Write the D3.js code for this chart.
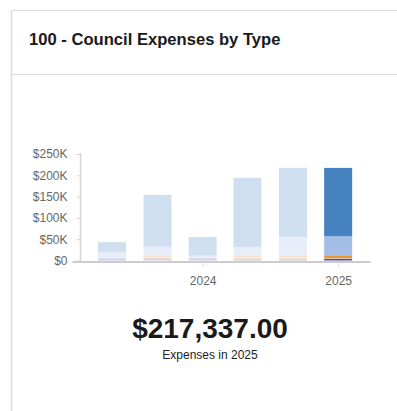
<!DOCTYPE html>
<html>
<head>
<meta charset="utf-8">
<script src="https://cdn.jsdelivr.net/npm/d3@7"></script>
<style>
  html, body { margin: 0; padding: 0; background: #fff; }
  body { width: 397px; height: 411px; overflow: hidden; font-family: "Liberation Sans", Arial, Helvetica, sans-serif; }
</style>
</head>
<body>
<svg id="chart" width="397" height="411"></svg>
<script>
// Expense periods (start of each four-month period)
const periods = ["2023-05-01", "2023-09-01", "2024-01-01", "2024-05-01", "2024-09-01", "2025-01-01"];
// Expense types, stacked bottom to top
const types = ["Allowances", "Catering", "Travel", "Office", "Staff"];
const allowances = [4500, 5000, 5000, 4000, 4000, 4500];
const catering   = [0, 1200, 0, 1500, 1500, 1300];
const travel     = [0, 5300, 0, 5500, 5500, 6500];
const office     = [15500, 21000, 7000, 21000, 44500, 44600];
const staff      = [23000, 121500, 43000, 162000, 162000, 160437];
const typeColors = ["#5b4a9e", "#f5dca0", "#e8963a", "#a3bde6", "#4682c0"];
const yTicks = [0, 50000, 100000, 150000, 200000, 250000];
const xTickLabels = ["2024", "2025"];
const selectedPeriod = "2025-01-01";
const totalLabel = "$217,337.00";
const subLabel = "Expenses in 2025";

const parse = d3.timeParse("%Y-%m-%d");
const seriesValues = [allowances, catering, travel, office, staff];
const rows = periods.map((p, i) => {
  const r = { period: parse(p), key: p };
  types.forEach((t, k) => r[t] = seriesValues[k][i]);
  return r;
});

const svg = d3.select("#chart");

// Card frame
svg.append("line").attr("x1", 11.5).attr("x2", 11.5).attr("y1", 10).attr("y2", 411)
  .attr("stroke", "#dcdcdc").attr("stroke-width", 1.5);
svg.append("line").attr("x1", 11).attr("x2", 397).attr("y1", 10.5).attr("y2", 10.5)
  .attr("stroke", "#dcdcdc").attr("stroke-width", 1.2);
svg.append("line").attr("x1", 11).attr("x2", 397).attr("y1", 74.5).attr("y2", 74.5)
  .attr("stroke", "#dcdcdc").attr("stroke-width", 1.2);

svg.append("text").attr("x", 29).attr("y", 45)
  .attr("font-size", 16.6).attr("font-weight", "bold").attr("fill", "#1a1a1a")
  .text("100 - Council Expenses by Type");

// Scales
const x = d3.scaleTime()
  .domain([new Date(2023, 0, 13), new Date(2025, 2, 28)])
  .range([72, 370]);
const y = d3.scaleLinear().domain([0, 250000]).range([260.5, 154]);
const color = d3.scaleOrdinal().domain(types).range(typeColors);
const barWidth = 28;

const stacked = d3.stack().keys(types)(rows);

const g = svg.append("g");
g.selectAll("g.layer").data(stacked).join("g")
  .attr("class", "layer")
  .attr("fill", d => color(d.key))
  .selectAll("rect").data(d => d).join("rect")
  .attr("x", d => x(d.data.period) - barWidth / 2)
  .attr("width", barWidth)
  .attr("y", d => y(d[1]))
  .attr("height", d => Math.max(0, y(d[0]) - y(d[1])))
  .attr("fill-opacity", d => d.data.key === selectedPeriod ? 1 : 0.26);

// Y axis
const yAxis = svg.append("g").attr("transform", "translate(80.5,0)")
  .call(d3.axisLeft(y).tickValues(yTicks).tickSize(4).tickPadding(9)
    .tickFormat(d => d === 0 ? "$0" : "$" + d / 1000 + "K"));
yAxis.select(".domain").remove();
yAxis.selectAll(".tick line").attr("stroke", "#d6d6d6");
yAxis.selectAll(".tick text").attr("fill", "#666").attr("font-size", 12)
  .attr("font-family", "Liberation Sans, Arial, sans-serif");
svg.append("line").attr("x1", 80.5).attr("x2", 80.5).attr("y1", 153).attr("y2", 261)
  .attr("stroke", "#d6d6d6").attr("stroke-width", 1.5);

// X axis
const xAxis = svg.append("g").attr("transform", "translate(0,261.5)")
  .call(d3.axisBottom(x).tickValues(xTickLabels.map(t => parse(t + "-01-01")))
    .tickSize(5).tickSizeOuter(0).tickPadding(10).tickFormat(d3.timeFormat("%Y")));
xAxis.select(".domain").attr("stroke", "#cccccc").attr("stroke-width", 2);
xAxis.selectAll(".tick line").attr("stroke", "#d6d6d6");
xAxis.selectAll(".tick text").attr("fill", "#666").attr("font-size", 12)
  .attr("font-family", "Liberation Sans, Arial, sans-serif");

// Headline total
svg.append("text").attr("x", 210).attr("y", 338).attr("text-anchor", "middle")
  .attr("font-size", 28).attr("font-weight", "bold").attr("fill", "#1a1a1a")
  .text(totalLabel);
svg.append("text").attr("x", 210).attr("y", 359).attr("text-anchor", "middle")
  .attr("font-size", 12).attr("fill", "#222")
  .text(subLabel);
</script>
</body>
</html>
